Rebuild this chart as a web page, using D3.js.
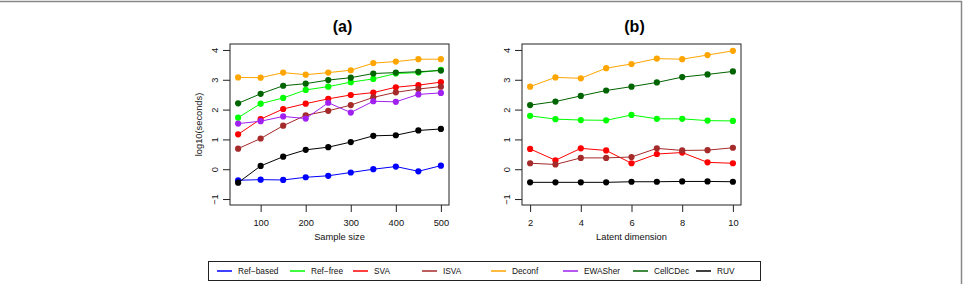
<!DOCTYPE html>
<html>
<head>
<meta charset="utf-8">
<script src="https://cdn.jsdelivr.net/npm/d3@7"></script>
<style>
  body { margin: 0; background: #fff; }
  svg { display: block; font-family: "Liberation Sans", Arial, sans-serif; }
</style>
</head>
<body>
<svg id="chart"></svg>
<script>
// data
const methods = ["Ref-based", "Ref-free", "SVA", "ISVA", "Deconf", "EWASher", "CellCDec", "RUV"];
const colors = ["#0000ff", "#00ff00", "#ff0000", "#a52a2a", "#ffa500", "#a020f0", "#006400", "#000000"];

const sampleSizes = [50, 100, 150, 200, 250, 300, 350, 400, 450, 500];
const refBasedA = [-0.37, -0.35, -0.36, -0.27, -0.22, -0.11, 0.0, 0.09, -0.07, 0.12];
const refFreeA = [1.73, 2.20, 2.39, 2.66, 2.77, 2.92, 3.03, 3.21, 3.24, 3.33];
const svaA = [1.17, 1.68, 2.02, 2.20, 2.36, 2.49, 2.57, 2.75, 2.82, 2.92];
const isvaA = [0.69, 1.03, 1.46, 1.81, 1.96, 2.15, 2.41, 2.58, 2.69, 2.77];
const deconfA = [3.08, 3.07, 3.24, 3.17, 3.24, 3.32, 3.56, 3.61, 3.69, 3.69];
const ewasherA = [1.53, 1.61, 1.77, 1.70, 2.23, 1.90, 2.28, 2.26, 2.51, 2.56];
const cellcdecA = [2.21, 2.53, 2.80, 2.87, 2.99, 3.07, 3.21, 3.24, 3.27, 3.31];
const ruvA = [-0.45, 0.11, 0.42, 0.65, 0.74, 0.91, 1.12, 1.14, 1.30, 1.35];

const latentDims = [2, 3, 4, 5, 6, 7, 8, 9, 10];
const refFreeB = [1.79, 1.68, 1.65, 1.64, 1.82, 1.69, 1.69, 1.63, 1.62];
const svaB = [0.68, 0.30, 0.70, 0.63, 0.20, 0.51, 0.56, 0.23, 0.20];
const isvaB = [0.20, 0.16, 0.38, 0.38, 0.41, 0.70, 0.63, 0.64, 0.72];
const deconfB = [2.77, 3.08, 3.05, 3.39, 3.53, 3.71, 3.69, 3.83, 3.97];
const cellcdecB = [2.15, 2.27, 2.46, 2.64, 2.77, 2.91, 3.09, 3.18, 3.28];
const ruvB = [-0.44, -0.44, -0.44, -0.44, -0.42, -0.42, -0.41, -0.41, -0.42];

const xTicksA = [100, 200, 300, 400, 500];
const xTicksB = [2, 4, 6, 8, 10];
const yTicks = [-1, 0, 1, 2, 3, 4];

const W = 964, H = 284;
const svg = d3.select("#chart").attr("width", W).attr("height", H);

// figure frame (top + right edges visible)
svg.append("line").attr("x1", 0).attr("x2", 962).attr("y1", 1.5).attr("y2", 1.5)
  .attr("stroke", "#888").attr("stroke-width", 1.5);
svg.append("line").attr("x1", 961.5).attr("x2", 961.5).attr("y1", 1).attr("y2", H)
  .attr("stroke", "#888").attr("stroke-width", 1.5);

const plotTop = 44, plotBottom = 205;
const y = d3.scaleLinear().domain([-1.2, 4.2]).range([plotBottom, plotTop]);
const tickFont = "9.3px";

function panel(opts) {
  const x = d3.scaleLinear().domain(opts.xDomain).range([opts.left, opts.right]);
  const g = svg.append("g");

  g.append("text")
    .attr("x", (opts.left + opts.right) / 2 + 3).attr("y", 32)
    .attr("text-anchor", "middle")
    .style("font-size", "16px").style("font-weight", "bold")
    .text(opts.title);

  // series
  opts.series.forEach(s => {
    const pts = opts.xs.map((v, i) => [v, s.values[i]]);
    g.append("path")
      .datum(pts)
      .attr("fill", "none")
      .attr("stroke", s.color)
      .attr("stroke-width", 1)
      .attr("d", d3.line().x(d => x(d[0])).y(d => y(d[1])));
    g.selectAll(null).data(pts).enter().append("circle")
      .attr("cx", d => x(d[0])).attr("cy", d => y(d[1]))
      .attr("r", 3.1).attr("fill", s.color);
  });

  // box
  g.append("rect")
    .attr("x", opts.left).attr("y", plotTop)
    .attr("width", opts.right - opts.left).attr("height", plotBottom - plotTop)
    .attr("fill", "none").attr("stroke", "#222").attr("stroke-width", 1);

  // x axis
  const xAxis = g.append("g")
    .attr("transform", `translate(0,${plotBottom})`)
    .call(d3.axisBottom(x).tickValues(opts.xTicks).tickSize(7).tickPadding(7).tickFormat(d3.format("d")));
  xAxis.select(".domain").remove();
  xAxis.selectAll("line").attr("stroke", "#222");
  xAxis.selectAll("text").style("font-size", tickFont).style("font-family", "Liberation Sans, Arial, sans-serif").attr("fill", "#111");

  // y axis
  const yAxis = g.append("g")
    .attr("transform", `translate(${opts.left},0)`)
    .call(d3.axisLeft(y).tickValues(yTicks).tickSize(7).tickFormat(d => d < 0 ? "\u2212" + Math.abs(d) : d));
  yAxis.select(".domain").remove();
  yAxis.selectAll("line").attr("stroke", "#222");
  yAxis.selectAll(".tick text")
    .attr("x", 0).attr("dy", 0)
    .attr("text-anchor", "middle")
    .attr("transform", "translate(-12.5,0) rotate(-90)")
    .style("font-size", tickFont).style("font-family", "Liberation Sans, Arial, sans-serif").attr("fill", "#111");

  g.append("text")
    .attr("x", (opts.left + opts.right) / 2).attr("y", 240)
    .attr("text-anchor", "middle")
    .style("font-size", tickFont).attr("fill", "#111")
    .text(opts.xLabel);

  if (opts.yLabel) {
    g.append("text")
      .attr("transform", `translate(${opts.left - 28},${(plotTop + plotBottom) / 2}) rotate(-90)`)
      .attr("text-anchor", "middle")
      .style("font-size", tickFont).attr("fill", "#111")
      .text(opts.yLabel);
  }
}

panel({
  title: "(a)", left: 230, right: 449, xDomain: [32, 518],
  xs: sampleSizes, xTicks: xTicksA, xLabel: "Sample size", yLabel: "log10(seconds)",
  series: [
    { values: refBasedA, color: colors[0] },
    { values: refFreeA, color: colors[1] },
    { values: svaA, color: colors[2] },
    { values: isvaA, color: colors[3] },
    { values: deconfA, color: colors[4] },
    { values: ewasherA, color: colors[5] },
    { values: cellcdecA, color: colors[6] },
    { values: ruvA, color: colors[7] }
  ]
});

panel({
  title: "(b)", left: 522, right: 741, xDomain: [1.68, 10.32],
  xs: latentDims, xTicks: xTicksB, xLabel: "Latent dimension", yLabel: null,
  series: [
    { values: refFreeB, color: colors[1] },
    { values: svaB, color: colors[2] },
    { values: isvaB, color: colors[3] },
    { values: deconfB, color: colors[4] },
    { values: cellcdecB, color: colors[6] },
    { values: ruvB, color: colors[7] }
  ]
});

// legend (one row, R-style horizontal legend)
const legendLineX = [217, 290, 353, 422, 491, 563, 633, 696];
const leg = svg.append("g");
leg.append("rect").attr("x", 208.5).attr("y", 261.5).attr("width", 552).attr("height", 19)
  .attr("fill", "#fff").attr("stroke", "#222").attr("stroke-width", 1);
methods.forEach((m, i) => {
  const lx = legendLineX[i];
  leg.append("line").attr("x1", lx).attr("x2", lx + 15).attr("y1", 271).attr("y2", 271)
    .attr("stroke", colors[i]).attr("stroke-width", 1.5);
  leg.append("text").attr("x", lx + 21).attr("y", 274)
    .style("font-size", "8.3px").attr("fill", "#111")
    .text(m.replace("-", "\u2212"));
});
</script>
</body>
</html>
